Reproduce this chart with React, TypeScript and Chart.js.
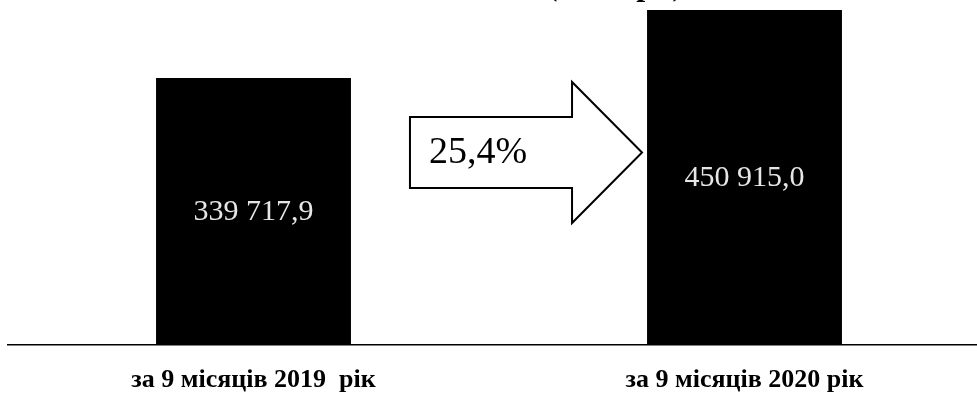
import React, { useEffect, useRef } from "react";
import { Chart, registerables } from "chart.js";

Chart.register(...registerables);

// ---- data ----
const categories: string[] = ["за 9 місяців 2019  рік", "за 9 місяців 2020 рік"];
const values: number[] = [339717.9, 450915.0];
const valueLabels: string[] = ["339 717,9", "450 915,0"];
const growthLabel = "25,4%";
const titleText = "(тис. грн)";
const Y_MIN = -97000;
const Y_MAX = 459000;

const SERIF = "'Liberation Serif', 'Times New Roman', serif";

const overlayPlugin = {
  id: "overlay",
  afterDraw(chart: any) {
    const ctx = chart.ctx;
    const meta = chart.getDatasetMeta(0);
    const bars = meta.data;
    const xScale = chart.scales.x;
    ctx.save();
    // value labels inside bars
    ctx.fillStyle = "#e6e6e6";
    ctx.font = `30px ${SERIF}`;
    ctx.textAlign = "center";
    ctx.textBaseline = "middle";
    bars.forEach((b: any, i: number) => {
      const yMid = (b.y + b.base) / 2;
      ctx.fillText(valueLabels[i], b.x, yMid + 1);
    });

    // category labels under the axis
    ctx.fillStyle = "#000000";
    ctx.font = `bold 26px ${SERIF}`;
    ctx.textBaseline = "middle";
    categories.forEach((c, i) => {
      const x = xScale.getPixelForValue(i);
      ctx.fillText(c, x, xScale.top + 35);
    });

    // arrow between bars
    const b1 = bars[0];
    const b2 = bars[1];
    const b1Right = b1.x + b1.width / 2;
    const b2Left = b2.x - b2.width / 2;
    const left = b1Right + 59;
    const tip = b2Left - 5;
    const headX = tip - 70;
    const cy = 152.5;
    const shaftH = 35.5;
    const headH = 70.5;
    ctx.beginPath();
    ctx.moveTo(left, cy - shaftH);
    ctx.lineTo(headX, cy - shaftH);
    ctx.lineTo(headX, cy - headH);
    ctx.lineTo(tip, cy);
    ctx.lineTo(headX, cy + headH);
    ctx.lineTo(headX, cy + shaftH);
    ctx.lineTo(left, cy + shaftH);
    ctx.closePath();
    ctx.fillStyle = "#ffffff";
    ctx.fill();
    ctx.lineWidth = 2;
    ctx.strokeStyle = "#000000";
    ctx.lineJoin = "miter";
    ctx.stroke();

    ctx.fillStyle = "#000000";
    ctx.font = `38px ${SERIF}`;
    ctx.textAlign = "left";
    ctx.textBaseline = "alphabetic";
    ctx.fillText(growthLabel, left + 19, cy + 10);

    // cut-off title at the very top
    ctx.font = `bold 32px ${SERIF}`;
    ctx.textAlign = "center";
    ctx.textBaseline = "alphabetic";
    ctx.fillText(titleText, 615, -5.5);
    ctx.restore();
  },
};

export default function App() {
  const ref = useRef<HTMLCanvasElement | null>(null);

  useEffect(() => {
    document.body.style.margin = "0";
    const canvas = ref.current;
    if (!canvas) return;
    const chart = new Chart(canvas, {
      type: "bar",
      data: {
        labels: categories,
        datasets: [
          {
            data: values,
            base: Y_MIN,
            backgroundColor: "#000000",
            borderWidth: 0,
            categoryPercentage: 1,
            barPercentage: 0.397,
          } as any,
        ],
      },
      options: {
        responsive: false,
        animation: false,
        devicePixelRatio: 1,
        layout: { padding: { left: 8, right: 0, top: 5, bottom: 49 } },
        plugins: {
          legend: { display: false },
          title: { display: false },
          tooltip: { enabled: false },
        },
        scales: {
          x: {
            grid: { display: false, drawTicks: false },
            border: { display: true, color: "#000000", width: 1.5 },
            ticks: { display: false },
          },
          y: {
            display: false,
            min: Y_MIN,
            max: Y_MAX,
          },
        },
      },
      plugins: [overlayPlugin],
    });
    return () => chart.destroy();
  }, []);

  return (
    <div
      style={{
        position: "fixed",
        left: 0,
        top: 0,
        width: 977,
        height: 394,
        overflow: "hidden",
        background: "#ffffff",
      }}
    >
      <canvas ref={ref} width={990} height={394} style={{ display: "block" }} />
    </div>
  );
}
